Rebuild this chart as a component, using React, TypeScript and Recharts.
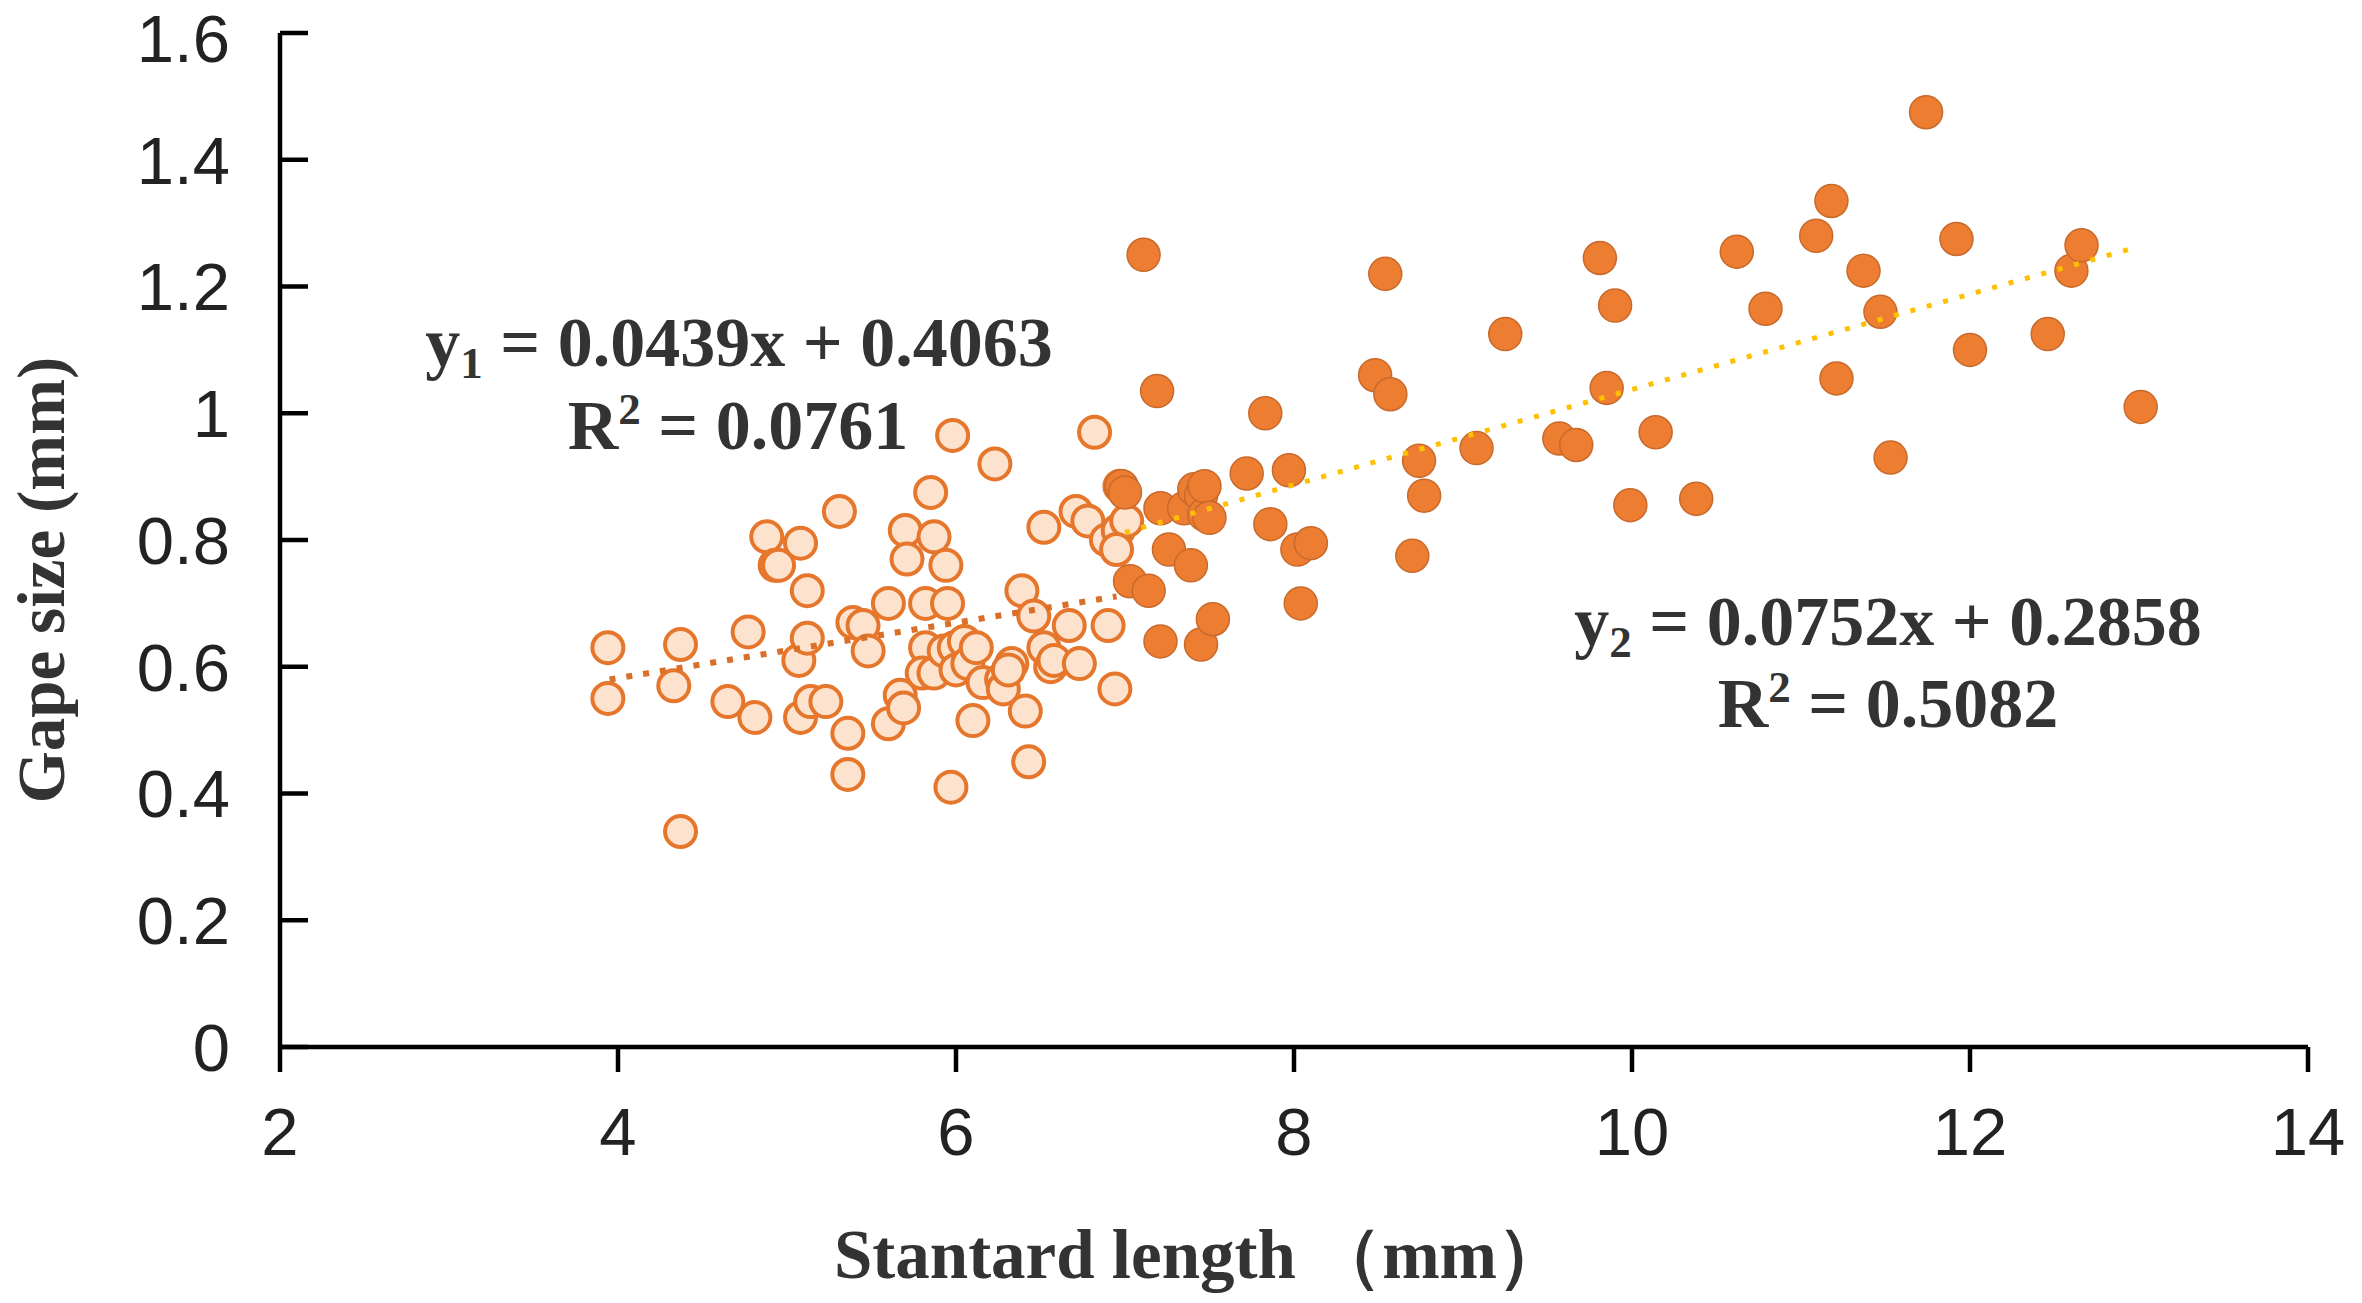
import { ScatterChart, Scatter, XAxis, YAxis } from 'recharts';

// small fish (open markers)
const smallX = [
  3.94, 3.94, 4.37, 4.33, 4.37, 4.65, 4.77, 4.81, 4.88, 4.93, 4.95, 5.08, 5.07, 5.08, 5.12,
  5.12, 5.14, 5.23, 5.31, 5.36, 5.36, 5.39, 5.45, 5.48, 5.6, 5.6, 5.67, 5.69, 5.7, 5.71,
  5.85, 5.87, 5.82, 5.82, 5.8, 5.87, 5.94, 5.95, 5.98, 5.97, 5.93, 5.99, 6.0, 6.05, 6.07,
  6.1, 6.12, 6.16, 6.23, 6.27, 6.28, 6.33, 6.31, 6.39, 6.41, 6.43, 6.46, 6.52, 6.52, 6.56,
  6.58, 6.67, 6.71, 6.73, 6.78, 6.82, 6.89, 6.9, 6.94, 6.96, 6.97, 7.01, 6.95,
];
const smallY = [
  0.63, 0.55, 0.635, 0.57, 0.34, 0.545, 0.655, 0.52, 0.805, 0.76, 0.76, 0.795, 0.61, 0.52, 0.72,
  0.645, 0.545, 0.545, 0.845, 0.495, 0.43, 0.67, 0.665, 0.625, 0.7, 0.51, 0.555, 0.535, 0.815, 0.77,
  0.875, 0.805, 0.7, 0.63, 0.59, 0.59, 0.76, 0.7, 0.965, 0.41, 0.625, 0.63, 0.595, 0.64, 0.605,
  0.515, 0.63, 0.575, 0.92, 0.58, 0.565, 0.605, 0.595, 0.72, 0.53, 0.45, 0.68, 0.82, 0.63, 0.6,
  0.61, 0.665, 0.845, 0.605, 0.83, 0.97, 0.8, 0.665, 0.565, 0.815, 0.885, 0.83, 0.785,
];

// large fish (filled markers)
const largeX = [
  6.98, 7.0, 7.03, 7.11, 7.14, 7.19, 7.21, 7.21, 7.26, 7.35, 7.39, 7.41, 7.45, 7.47, 7.47,
  7.45, 7.5, 7.52, 7.72, 7.83, 7.86, 7.97, 8.02, 8.1, 8.04, 8.48, 8.54, 8.57, 8.7, 8.74,
  8.77, 9.08, 9.25, 9.57, 9.67, 9.81, 9.85, 9.9, 9.99, 10.14, 10.38, 10.62, 10.79, 11.09, 11.18,
  11.21, 11.37, 11.47, 11.53, 11.74, 11.92, 12.0, 12.46, 12.6, 12.66, 13.01,
];
const largeY = [
  0.885, 0.875, 0.735, 1.25, 0.72, 1.035, 0.85, 0.64, 0.785, 0.85, 0.76, 0.88, 0.87, 0.84, 0.885,
  0.635, 0.835, 0.675, 0.905, 1.0, 0.825, 0.91, 0.785, 0.795, 0.7, 1.06, 1.22, 1.03, 0.775, 0.925,
  0.87, 0.945, 1.125, 0.96, 0.95, 1.245, 1.04, 1.17, 0.855, 0.97, 0.865, 1.255, 1.165, 1.28, 1.335,
  1.055, 1.225, 1.16, 0.93, 1.475, 1.275, 1.1, 1.125, 1.225, 1.265, 1.01,
];

// trend line end points
const trend1X = [3.95, 6.95];
const trend1Y = [0.58, 0.711];
const trend2X = [7.0, 13.0];
const trend2Y = [0.812, 1.263];

const xTicks = [2, 4, 6, 8, 10, 12, 14];
const yTicks = [0, 0.2, 0.4, 0.6, 0.8, 1, 1.2, 1.4, 1.6];

const toPoints = (xs: number[], ys: number[]) => xs.map((x, i) => ({ x, y: ys[i] }));

const serif = '"Liberation Serif", "Times New Roman", serif';
const sans = '"Liberation Sans", Arial, sans-serif';
const textColor = '#333';

const OpenDot = (p: any) => (
  <circle cx={p.cx} cy={p.cy} r={15.5} fill="#fde2cd" stroke="#e5762b" strokeWidth={4} />
);
const FilledDot = (p: any) => (
  <circle cx={p.cx} cy={p.cy} r={16.5} fill="#ed7d31" stroke="#c86a2c" strokeWidth={1.5} />
);
const NoDot = () => <g />;

export default function App() {
  const small = toPoints(smallX, smallY);
  const large = toPoints(largeX, largeY);
  const t1 = toPoints(trend1X, trend1Y);
  const t2 = toPoints(trend2X, trend2Y);

  return (
    <div style={{ width: 2362, height: 1303, background: '#fff' }}>
      <style>{'body{margin:0}'}</style>
      <ScatterChart
        width={2362}
        height={1303}
        margin={{ top: 33, right: 54, bottom: 0, left: 0 }}
      >
        <XAxis
          type="number"
          dataKey="x"
          domain={[2, 14]}
          ticks={xTicks}
          height={256}
          tickSize={25}
          tickMargin={35}
          axisLine={{ stroke: '#000', strokeWidth: 4.5 }}
          tickLine={{ stroke: '#000', strokeWidth: 4.5 }}
          tick={{ fill: '#222', fontSize: 67, fontFamily: sans }}
          allowDataOverflow
        />
        <YAxis
          type="number"
          dataKey="y"
          domain={[0, 1.6]}
          ticks={yTicks}
          width={280}
          tickSize={-28}
          tickMargin={78}
          axisLine={{ stroke: '#000', strokeWidth: 4.5 }}
          tickLine={{ stroke: '#000', strokeWidth: 4.5 }}
          tick={{ fill: '#222', fontSize: 67, fontFamily: sans }}
          allowDataOverflow
        />
        <Scatter data={small} shape={OpenDot} isAnimationActive={false} />
        <Scatter data={large} shape={FilledDot} isAnimationActive={false} />
        <Scatter
          data={t1}
          shape={NoDot}
          line={{ stroke: '#d96f28', strokeWidth: 6, strokeDasharray: '6 11' }}
          isAnimationActive={false}
        />
        <Scatter
          data={t2}
          shape={NoDot}
          line={{ stroke: '#ffc000', strokeWidth: 5, strokeDasharray: '5 12' }}
          isAnimationActive={false}
        />

        <text
          x={41}
          y={580}
          transform="rotate(-90 41 580)"
          textAnchor="middle"
          dominantBaseline="central"
          fontFamily={serif}
          fontWeight="bold"
          fontSize={67}
          fill={textColor}
        >
          Gape size (mm)
        </text>
        <text
          x={1200}
          y={1278}
          textAnchor="middle"
          fontFamily={serif}
          fontWeight="bold"
          fontSize={69}
          fill={textColor}
        >
          Stantard length （mm）
        </text>

        <text x={739} y={366} textAnchor="middle" fontFamily={serif} fontWeight="bold" fontSize={70} fill={textColor}>
          y<tspan fontSize={45} dy={12}>1</tspan>
          <tspan dy={-12}> = 0.0439x + 0.4063</tspan>
        </text>
        <text x={738} y={449} textAnchor="middle" fontFamily={serif} fontWeight="bold" fontSize={70} fill={textColor}>
          R<tspan fontSize={45} dy={-25}>2</tspan>
          <tspan dy={25}> = 0.0761</tspan>
        </text>
        <text x={1888} y={645} textAnchor="middle" fontFamily={serif} fontWeight="bold" fontSize={70} fill={textColor}>
          y<tspan fontSize={45} dy={12}>2</tspan>
          <tspan dy={-12}> = 0.0752x + 0.2858</tspan>
        </text>
        <text x={1888} y={727} textAnchor="middle" fontFamily={serif} fontWeight="bold" fontSize={70} fill={textColor}>
          R<tspan fontSize={45} dy={-25}>2</tspan>
          <tspan dy={25}> = 0.5082</tspan>
        </text>
      </ScatterChart>
    </div>
  );
}
